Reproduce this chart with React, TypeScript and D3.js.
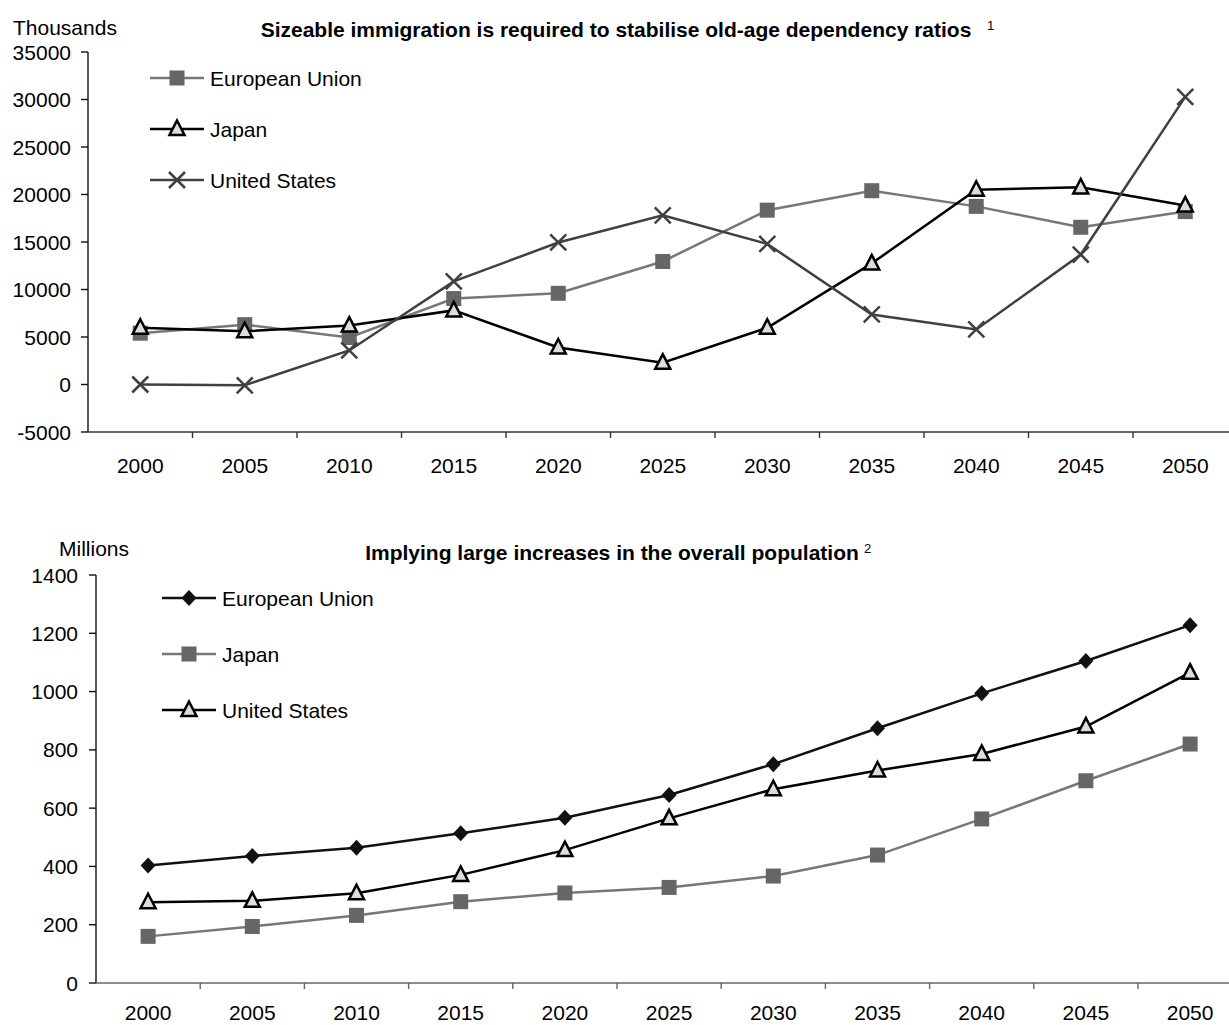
import React from "react";
import * as d3 from "d3";

const years = ["2000", "2005", "2010", "2015", "2020", "2025", "2030", "2035", "2040", "2045", "2050"];

// Top chart: immigration required (thousands)
const immEU = [5400, 6300, 4950, 9050, 9600, 12950, 18350, 20400, 18750, 16550, 18200];
const immJapan = [5970, 5600, 6200, 7800, 3900, 2300, 5970, 12750, 20500, 20750, 18850];
const immUS = [0, -80, 3580, 10850, 14950, 17800, 14800, 7370, 5800, 13680, 30280];
const immTicks = [-5000, 0, 5000, 10000, 15000, 20000, 25000, 30000, 35000];

// Bottom chart: overall population (millions)
const popEU = [403, 436, 464, 514, 567, 645, 751, 874, 994, 1105, 1228];
const popJapan = [160, 194, 232, 279, 309, 328, 367, 439, 563, 694, 820];
const popUS = [277, 282, 308, 371, 456, 565, 665, 729, 786, 880, 1065];
const popTicks = [0, 200, 400, 600, 800, 1000, 1200, 1400];

const FONT = "'Liberation Sans', Arial, sans-serif";
const FS = 21;

type MarkerKind = "square" | "triangle" | "x" | "diamond";

function Marker({ kind, x, y }: { kind: MarkerKind; x: number; y: number }) {
  if (kind === "square") {
    return <rect x={x - 7.5} y={y - 7.5} width={15} height={15} fill="#666" />;
  }
  if (kind === "triangle") {
    return (
      <path
        d={`M${x},${y - 8.5} L${x + 7.5},${y + 6} L${x - 7.5},${y + 6} Z`}
        fill="#ddd"
        stroke="#000"
        strokeWidth={2.5}
        strokeLinejoin="miter"
      />
    );
  }
  if (kind === "diamond") {
    return <path d={`M${x},${y - 8} L${x + 7.5},${y} L${x},${y + 8} L${x - 7.5},${y} Z`} fill="#111" />;
  }
  return (
    <path
      d={`M${x - 8},${y - 8} L${x + 8},${y + 8} M${x - 8},${y + 8} L${x + 8},${y - 8}`}
      stroke="#404040"
      strokeWidth={2.5}
    />
  );
}

type Series = { name: string; values: number[]; color: string; marker: MarkerKind };

type ChartProps = {
  series: Series[];
  ticks: number[];
  x0: number;
  bandW: number;
  yTop: number;
  yBottom: number;
  labelGap: number;
  xLabelOffset: number;
  xAxisColor: string;
  unit: string;
  unitX: number;
  unitY: number;
  title: string;
  titleX: number;
  titleY: number;
  sup: string;
  supX: number;
  legendX: number;
  legendY: number;
  legendGap: number;
};

function Chart(p: ChartProps) {
  const x = d3.scaleBand<string>().domain(years).range([p.x0, p.x0 + p.bandW * years.length]).padding(0);
  const cx = (yr: string) => (x(yr) as number) + x.bandwidth() / 2;
  const y = d3
    .scaleLinear()
    .domain([p.ticks[0], p.ticks[p.ticks.length - 1]])
    .range([p.yBottom, p.yTop]);
  const line = d3
    .line<number>()
    .x((_, i) => cx(years[i]))
    .y((d) => y(d));

  return (
    <g>
      {/* y axis */}
      <line x1={p.x0} x2={p.x0} y1={p.yTop} y2={p.yBottom} stroke="#111" strokeWidth={1.4} />
      {p.ticks.map((t) => (
        <g key={t}>
          <line x1={p.x0 - 7} x2={p.x0} y1={y(t)} y2={y(t)} stroke="#111" strokeWidth={1.4} />
          <text
            x={p.x0 - p.labelGap}
            y={y(t)}
            dy="0.36em"
            textAnchor="end"
            fontSize={FS}
            fontFamily={FONT}
            fill="#000"
          >
            {t}
          </text>
        </g>
      ))}
      {/* x axis */}
      <line x1={p.x0} x2={1229} y1={p.yBottom} y2={p.yBottom} stroke={p.xAxisColor} strokeWidth={1.4} />
      {years.map((yr, i) => (
        <g key={yr}>
          {i > 0 && (
            <line
              x1={x(yr) as number}
              x2={x(yr) as number}
              y1={p.yBottom}
              y2={p.yBottom + 6}
              stroke={p.xAxisColor}
              strokeWidth={1.4}
            />
          )}
          <text
            x={cx(yr)}
            y={p.yBottom + p.xLabelOffset}
            textAnchor="middle"
            fontSize={FS}
            fontFamily={FONT}
            fill="#000"
          >
            {yr}
          </text>
        </g>
      ))}
      {/* unit label */}
      <text x={p.unitX} y={p.unitY} fontSize={FS} fontFamily={FONT} fill="#000">
        {p.unit}
      </text>
      {/* title */}
      <text
        x={p.titleX}
        y={p.titleY}
        textAnchor="middle"
        fontSize={FS}
        fontWeight="bold"
        fontFamily={FONT}
        fill="#000"
      >
        {p.title}
      </text>
      <text x={p.supX} y={p.titleY - 7} fontSize={13} fontFamily={FONT} fill="#000">
        {p.sup}
      </text>
      {/* series */}
      {p.series.map((s) => (
        <g key={s.name}>
          <path d={line(s.values) as string} fill="none" stroke={s.color} strokeWidth={2.5} />
          {s.values.map((v, i) => (
            <Marker key={i} kind={s.marker} x={cx(years[i])} y={y(v)} />
          ))}
        </g>
      ))}
      {/* legend */}
      {p.series.map((s, i) => {
        const ly = p.legendY + i * p.legendGap;
        return (
          <g key={s.name + "-lg"}>
            <line x1={p.legendX} x2={p.legendX + 54} y1={ly} y2={ly} stroke={s.color} strokeWidth={2.5} />
            <Marker kind={s.marker} x={p.legendX + 27} y={ly} />
            <text x={p.legendX + 60} y={ly} dy="0.36em" fontSize={FS} fontFamily={FONT} fill="#000">
              {s.name}
            </text>
          </g>
        );
      })}
    </g>
  );
}

export default function App() {
  const topSeries: Series[] = [
    { name: "European Union", values: immEU, color: "#777", marker: "square" },
    { name: "Japan", values: immJapan, color: "#000", marker: "triangle" },
    { name: "United States", values: immUS, color: "#404040", marker: "x" },
  ];
  const bottomSeries: Series[] = [
    { name: "European Union", values: popEU, color: "#111", marker: "diamond" },
    { name: "Japan", values: popJapan, color: "#777", marker: "square" },
    { name: "United States", values: popUS, color: "#000", marker: "triangle" },
  ];
  return (
    <svg
      width={1229}
      height={1025}
      style={{ position: "absolute", left: 0, top: 0, background: "#fff" }}
      xmlns="http://www.w3.org/2000/svg"
    >
      <rect width={1229} height={1025} fill="#fff" />
      <Chart
        series={topSeries}
        ticks={immTicks}
        x0={88}
        bandW={104.5}
        yTop={52}
        yBottom={432}
        labelGap={17}
        xLabelOffset={41}
        xAxisColor="#333"
        unit="Thousands"
        unitX={13}
        unitY={35}
        title="Sizeable immigration is required to stabilise old-age dependency ratios"
        titleX={616}
        titleY={37}
        sup="1"
        supX={987}
        legendX={150}
        legendY={78}
        legendGap={51}
      />
      <Chart
        series={bottomSeries}
        ticks={popTicks}
        x0={96}
        bandW={104.2}
        yTop={575}
        yBottom={983}
        labelGap={18}
        xLabelOffset={37}
        xAxisColor="#666"
        unit="Millions"
        unitX={59}
        unitY={556}
        title="Implying large increases in the overall population"
        titleX={612}
        titleY={560}
        sup="2"
        supX={864}
        legendX={162}
        legendY={598}
        legendGap={56}
      />
    </svg>
  );
}
